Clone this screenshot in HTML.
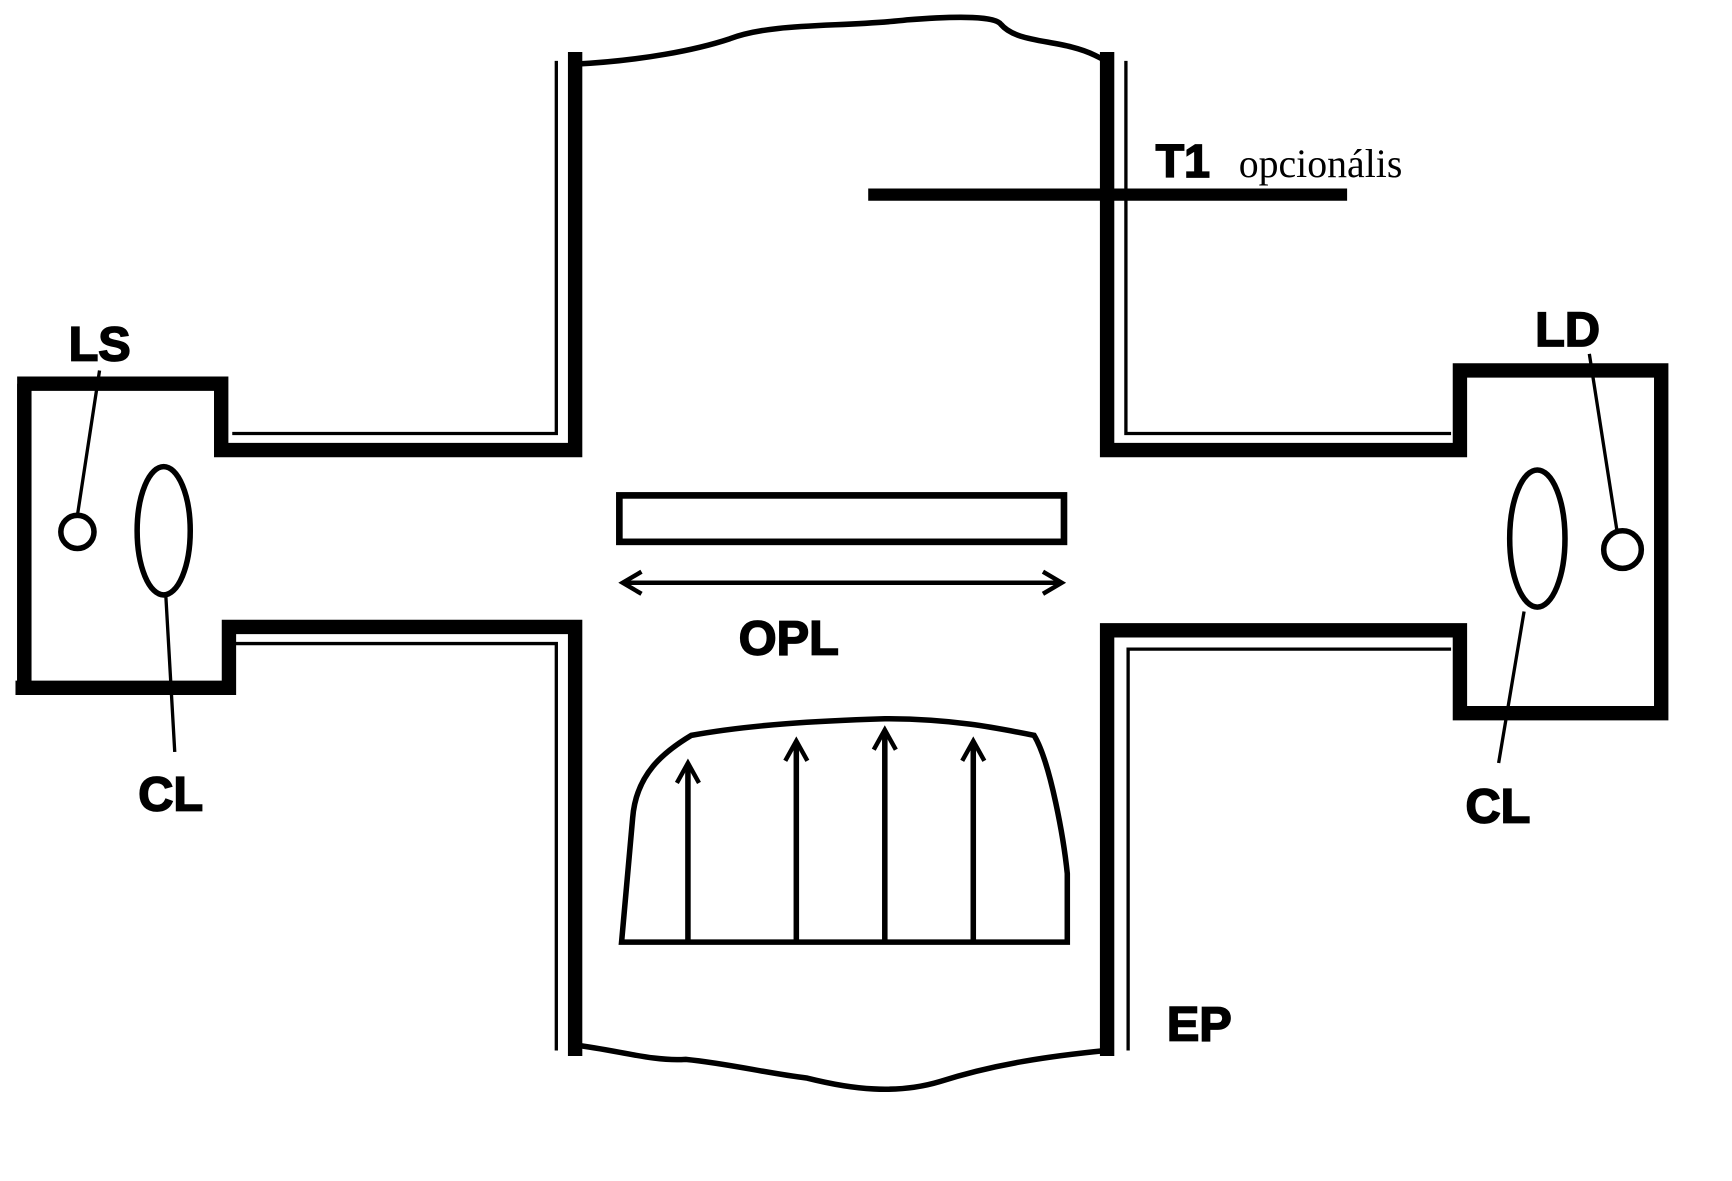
<!DOCTYPE html>
<html><head><meta charset="utf-8"><style>
html,body{margin:0;padding:0;background:#fff;}
svg{display:block;}
.b{font-family:"Liberation Sans",sans-serif;font-weight:bold;stroke:#000;stroke-width:1.5;}
</style></head><body>
<svg width="1732" height="1181" viewBox="0 0 1566 1068" preserveAspectRatio="none" xmlns="http://www.w3.org/2000/svg">
<g fill="none" stroke="#000" stroke-linejoin="miter">
<path d="M520,47 V407 H200 V347 H22 V622 H14" stroke-width="13"/>
<path d="M22,347 V622 H207 V567 H520 V955" stroke-width="13"/>
<path d="M503,55 V392 H210" stroke-width="3"/>
<path d="M210,582 H503 V950" stroke-width="3"/>
<path d="M1001,47 V407 H1320 V335 H1502 V645 H1320 V570 H1001 V955" stroke-width="13"/>
<path d="M1018,55 V392 H1312" stroke-width="3"/>
<path d="M1312,587 H1020 V950" stroke-width="3"/>
<path d="M520,58 C580,55 630,45 660,35 C700,20 760,25 820,18 C870,14 900,15 905,22 C920,40 960,35 990,50 L1000,55" stroke-width="5"/>
<path d="M520,945 C560,950 590,960 620,958 C660,962 690,970 730,975 C770,985 810,990 850,978 C900,962 950,955 1000,950" stroke-width="5"/>
<path d="M785,176 H1218" stroke-width="11"/>
<rect x="560" y="448" width="402" height="42" stroke-width="6"/>
<path d="M565,527 H958" stroke-width="4"/>
<path d="M580,517 L563,527 L580,537 M943,517 L960,527 L943,537" stroke-width="4"/>
<path d="M562,852 L572,740 C575,700 600,680 625,665 C680,655 740,652 800,650 C860,650 900,658 935,665 C950,690 962,760 965,790 L965,852 Z" stroke-width="5"/>
<path d="M622,852 V692 M720,852 V672 M800,852 V662 M880,852 V672" stroke-width="5"/>
<path d="M612,708 L622,690 L632,708 M710,688 L720,670 L730,688 M790,678 L800,660 L810,678 M870,688 L880,670 L890,688" stroke-width="4"/>
<ellipse cx="148" cy="480" rx="24" ry="58" stroke-width="5"/>
<circle cx="70" cy="481" r="15" stroke-width="5"/>
<path d="M90,335 L70,466 M150,540 L158,680" stroke-width="3"/>
<ellipse cx="1390" cy="487" rx="25" ry="62" stroke-width="5"/>
<circle cx="1467" cy="497" r="17" stroke-width="5"/>
<path d="M1437,320 L1462,480 M1378,553 L1355,690" stroke-width="3"/>
</g>
<text class="b" x="1045" y="160" font-size="42">T1</text>
<text x="1120" y="160" font-size="36" font-family="Liberation Serif,serif">opcionális</text>
<text class="b" x="62" y="326" font-size="44">LS</text>
<text class="b" x="1388" y="313" font-size="44">LD</text>
<text class="b" x="125" y="733" font-size="44">CL</text>
<text class="b" x="1325" y="744" font-size="44">CL</text>
<text class="b" x="668" y="592" font-size="44">OPL</text>
<text class="b" x="1055" y="941" font-size="44">EP</text>
</svg>
</body></html>
